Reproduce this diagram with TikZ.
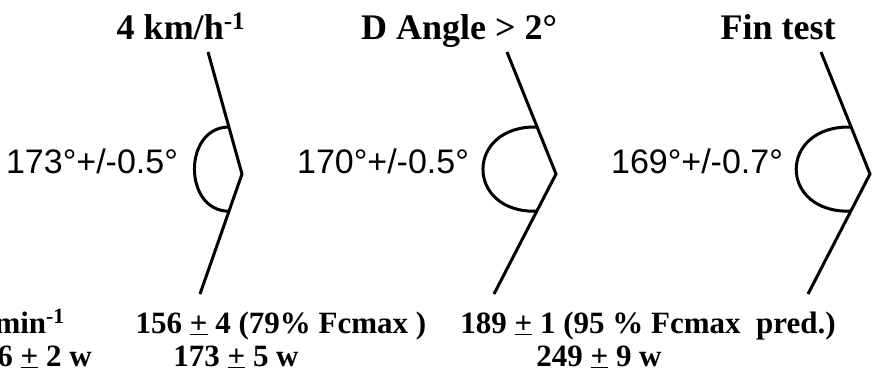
\documentclass[tikz,border=0pt]{standalone}
\usepackage{fontspec}
\setmainfont{Liberation Serif}
\setsansfont{Liberation Sans}
\usepackage{tikz}
\usetikzlibrary{calc}

\tikzset{
  ttl/.style={font=\fontsize{36}{40}\selectfont\bfseries, anchor=base, inner sep=0pt},
  anglab/.style={font=\sffamily\fontsize{34}{38}\selectfont, anchor=base, inner sep=0pt},
  stat/.style={font=\fontsize{31}{34}\selectfont\bfseries, anchor=base, inner sep=0pt},
  leg/.style={line width=3pt, line join=miter},
  bow/.style={line width=3pt}
}
\newcommand{\pmu}{\underline{+}}

\begin{document}
\begin{tikzpicture}[x=1pt,y=-1pt]
  \useasboundingbox (0,0) rectangle (879,376);

  % titles
  \node[ttl] (ttl1) at (181,39) {4 km/h\textsuperscript{-1}};
  \node[ttl] (ttl2) at (459,39) {D Angle > 2°};
  \node[ttl] (ttl3) at (778,39) {Fin test};

  % the three bent segments
  \coordinate (t1) at (208,52);  \coordinate (v1) at (242,174); \coordinate (b1) at (200,294);
  \coordinate (t2) at (507,52);  \coordinate (v2) at (556,174); \coordinate (b2) at (494,294);
  \coordinate (t3) at (821,52);  \coordinate (v3) at (870,174); \coordinate (b3) at (808,294);

  \draw[leg] (t1) -- (v1) -- (b1);
  \draw[leg] (t2) -- (v2) -- (b2);
  \draw[leg] (t3) -- (v3) -- (b3);

  \draw[bow] ($(t1)!0.615!(v1)$) .. controls +(-46,0) and +(-46,0) .. ($(v1)!0.31!(b1)$);
  \draw[bow] ($(t2)!0.615!(v2)$) .. controls +(-72,-2) and +(-72,2) .. ($(v2)!0.31!(b2)$);
  \draw[bow] ($(t3)!0.615!(v3)$) .. controls +(-73,-2) and +(-73,2) .. ($(v3)!0.31!(b3)$);

  % angle values
  \node[anglab] (ang1) at (92,173) {173°+/-0.5°};
  \node[anglab] (ang2) at (383,173) {170°+/-0.5°};
  \node[anglab] (ang3) at (697,173) {169°+/-0.7°};

  % heart rate and power
  \node[stat, anchor=base east] (hr0) at (65,333) {min\textsuperscript{-1}};
  \node[stat] (hr1) at (281,333) {156 \pmu{} 4 (79\% Fcmax )};
  \node[stat] (hr2) at (648,333) {189 \pmu{} 1 (95 \% Fcmax\ \ pred.)};
  \node[stat, anchor=base east] (pw0) at (92,366) {6 \pmu{} 2 w};
  \node[stat] (pw1) at (236,366) {173 \pmu{} 5 w};
  \node[stat] (pw2) at (599,366) {249 \pmu{} 9 w};
\end{tikzpicture}
\end{document}
